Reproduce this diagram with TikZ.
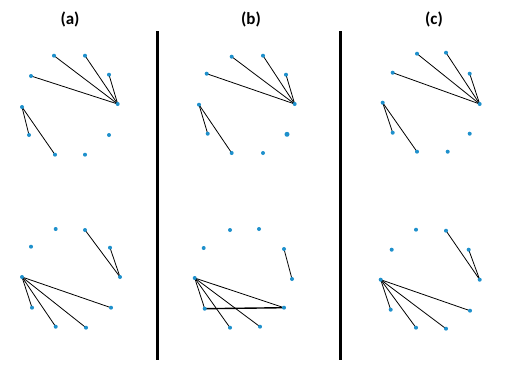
\documentclass[tikz,border=0pt]{standalone}
\usepackage{fontspec}
\setmainfont{Carlito}
\usetikzlibrary{backgrounds}
\definecolor{dotblue}{RGB}{30,144,204}
\begin{document}
\begin{tikzpicture}[x=1pt,y=-1pt,
  vtx/.style={circle,fill=dotblue,inner sep=0pt,minimum size=4pt},
  bigvtx/.style={circle,fill=dotblue,inner sep=0pt,minimum size=5pt},
  edge/.style={draw=black,line width=0.8pt},
  thickedge/.style={draw=black,line width=1.4pt},
  sep/.style={draw=black,line width=3pt},
  title/.style={font=\fontsize{17}{20}\selectfont\bfseries,inner sep=0pt}]
\useasboundingbox (0,0) rectangle (512,383);
% titles
\node[title] (ta) at (70,19) {(a)};
\node[title] (tb) at (251,19) {(b)};
\node[title] (tc) at (434,19) {(c)};
% separators
\coordinate (s1t) at (157.3,31); \coordinate (s1b) at (157.3,360);
\coordinate (s2t) at (340.3,31); \coordinate (s2b) at (340.3,360);
\draw[sep] (s1t) -- (s1b);
\draw[sep] (s2t) -- (s2b);
% vertices
\foreach \n/\x/\y in {
  at0/117.7/104, at1/109/74.7, at2/85/55.7, at3/54/55.7, at4/31/76,
  at5/22/107, at6/29/135, at7/55/154.7, at8/85/154.7, at9/109/135,
  ab0/120/277, ab1/110/247.7, ab2/85/230, ab3/55.7/229, ab4/31/246.7,
  ab5/22/277, ab6/32/307.7, ab7/55.7/326.7, ab8/86/327.7, ab9/111/307.7,
  bt0/294.7/104, bt1/286/74.7, bt2/263/55.7, bt3/231.7/56.7, bt4/206.7/73.7,
  bt5/199/104.7, bt6/207.7/133.7, bt7/231.7/153, bt8/263/153,
  bb0/292/279, bb1/284/249, bb2/259/229, bb3/230/230, bb4/203.7/248,
  bb5/194.7/278, bb6/204.7/308.7, bb7/230/327.7, bb8/260/326.7, bb9/284/307.7,
  ct0/479.7/104, ct1/469.7/73.7, ct2/446/52.7, ct3/417/53.7, ct4/392.7/72.7,
  ct5/382.7/102.7, ct6/392.7/132.7, ct7/417/151.7, ct8/447.7/151.7, ct9/469.7/133.7,
  cb0/479.7/279.7, cb1/468.7/249.7, cb2/446/230.7, cb3/416/229.7, cb4/391.7/249.7,
  cb5/380.7/279.7, cb6/390.7/309.7, cb7/416/327.7, cb8/446/328.7, cb9/470/310.7}
  \node[vtx] (\n) at (\x,\y) {};
\node[bigvtx] (bt9) at (287,134.3) {};
% edges
\begin{scope}[on background layer]
\fill[white] (0,0) rectangle (512,383);
\foreach \p in {at,bt,ct}{
  \foreach \k in {1,2,3,4} \draw[edge] (\p0.center) -- (\p\k.center);
  \foreach \k in {6,7} \draw[edge] (\p5.center) -- (\p\k.center);
}
\foreach \p in {ab,cb}{
  \foreach \k in {1,2} \draw[edge] (\p0.center) -- (\p\k.center);
  \foreach \k in {6,7,8,9} \draw[edge] (\p5.center) -- (\p\k.center);
}
\draw[edge] (bb0.center) -- (bb1.center);
\foreach \k in {6,7,8,9} \draw[edge] (bb5.center) -- (bb\k.center);
\draw[thickedge] (bb6.center) -- (bb9.center);
\end{scope}
\end{tikzpicture}
\end{document}
